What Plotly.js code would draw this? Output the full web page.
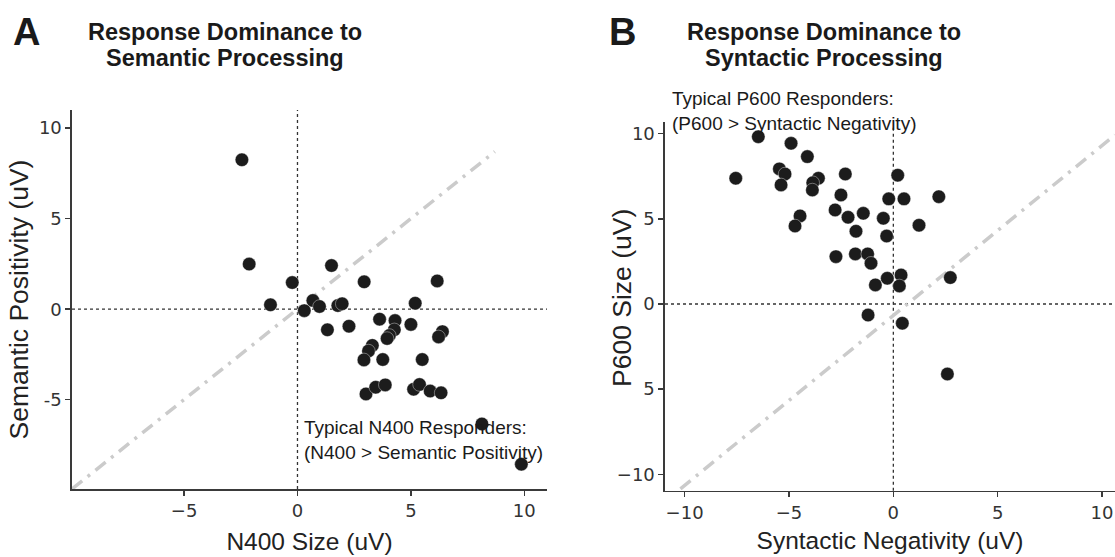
<!DOCTYPE html>
<html>
<head>
<meta charset="utf-8">
<script src="https://cdn.plot.ly/plotly-3.0.1.min.js"></script>
<style>
  html, body { margin: 0; padding: 0; background: #fff; }
  #chart { width: 1115px; height: 557px; }
</style>
</head>
<body>
<div id="chart"></div>
<script>
// Panel A: N400 Size (x) vs Semantic Positivity (y)
const n400Size = [-2.45, -2.13, -0.23, 1.50, 2.94, 6.16, -1.19, 0.68, 0.97, 0.30, 1.78, 1.97, 5.19,
  1.32, 2.27, 3.62, 4.30, 4.27, 4.05, 3.95, 5.00, 6.39, 6.22, 3.30, 3.13, 2.93, 3.76, 5.50,
  3.02, 3.45, 3.87, 5.12, 5.38, 5.85, 6.33, 8.13, 9.87];
const semanticPositivity = [8.25, 2.49, 1.47, 2.41, 1.51, 1.56, 0.24, 0.48, 0.15, -0.08, 0.20, 0.30, 0.33,
  -1.14, -0.94, -0.55, -0.63, -1.14, -1.45, -1.62, -0.84, -1.24, -1.53, -2.00, -2.31, -2.80, -2.78, -2.78,
  -4.68, -4.31, -4.18, -4.42, -4.16, -4.52, -4.62, -6.34, -8.56];

// Panel B: Syntactic Negativity (x) vs P600 Size (y)
const syntacticNegativity = [-7.55, -6.47, -4.90, -4.12, -5.46, -5.19, -5.38, -3.59, -3.86, -3.88, -2.30, -2.51,
  0.21, -0.22, 0.51, 2.18, -2.79, -2.17, -1.44, -0.48, -4.47, -4.71, -1.79, -0.32, 1.23,
  -2.75, -1.82, -1.23, -1.07, -0.29, 0.37, 0.29, -0.86, 2.73, -1.21, 0.43, 2.59];
const p600Size = [7.38, 9.82, 9.43, 8.65, 7.93, 7.63, 6.99, 7.38, 7.12, 6.69, 7.63, 6.40,
  7.56, 6.17, 6.17, 6.30, 5.52, 5.09, 5.32, 5.03, 5.17, 4.58, 4.27, 3.99, 4.62,
  2.78, 2.94, 2.94, 2.39, 1.51, 1.70, 1.06, 1.12, 1.55, -0.65, -1.13, -4.11];

// Tick labels as shown
const aXTickVals = [-5, 0, 5, 10];
const aXTickText = ['\u22125', '0', '5', '10'];
const aYTickVals = [-5, 0, 5, 10];
const aYTickText = ['-5', '0', '5', '10'];
const bXTickVals = [-10, -5, 0, 5, 10];
const bXTickText = ['\u221210', '\u22125', '0', '5', '10'];
const bYTickVals = [-10, -5, 0, 5, 10];
const bYTickText = ['\u221210', '5', '0', '5', '10'];

// Diagonal reference line endpoints (data units)
const aDiag = {x0: -9.94, y0: -9.93, x1: 8.7, y1: 8.7};
const bDiag = {x0: -10.2, y0: -10.85, x1: 10.62, y1: 9.92};

const W = 1115, H = 557;
const px = v => v / W;
const py = v => 1 - v / H;

const markerStyle = {size: 13.5, color: '#1c1c1c', line: {width: 0.7, color: 'rgba(255,255,255,0.55)'}};

const traces = [
  {x: n400Size, y: semanticPositivity, type: 'scatter', mode: 'markers', marker: markerStyle,
   xaxis: 'x', yaxis: 'y', hoverinfo: 'x+y', cliponaxis: false},
  {x: syntacticNegativity, y: p600Size, type: 'scatter', mode: 'markers', marker: markerStyle,
   xaxis: 'x2', yaxis: 'y2', hoverinfo: 'x+y', cliponaxis: false}
];

const SANS = 'Liberation Sans, Arial, sans-serif';
const tickFont = {family: 'DejaVu Sans, sans-serif', size: 18, color: '#333'};
const xTitleFont = {family: SANS, size: 24.5, color: '#222'};
const yTitleFont = {family: SANS, size: 26.5, color: '#222'};
const headFont = {family: SANS, size: 23.5, color: '#1a1a1a'};
const noteFont = {family: SANS, size: 19, color: '#1a1a1a'};
const axisCommon = {
  showgrid: false, zeroline: false, showline: true, linecolor: '#3a3a3a', linewidth: 1.6,
  ticks: 'outside', ticklen: 5, tickwidth: 1.4, tickcolor: '#3a3a3a', tickfont: tickFont,
  tickmode: 'array', fixedrange: true
};

const dotted = {color: '#333', width: 1.3, dash: '3px,3px'};
const dashdot = {color: '#cbcbcb', width: 3.5, dash: '13px,7px,3px,7px'};

function label(text, x, y, font, opts) {
  return Object.assign({text: text, xref: 'paper', yref: 'paper', x: px(x), y: py(y),
    xanchor: 'center', yanchor: 'middle', showarrow: false, font: font}, opts || {});
}

const layout = {
  width: W, height: H,
  margin: {l: 0, r: 0, t: 0, b: 0},
  paper_bgcolor: '#fff', plot_bgcolor: 'rgba(0,0,0,0)',
  showlegend: false,
  font: {family: SANS, color: '#222'},
  xaxis: Object.assign({}, axisCommon, {
    domain: [px(72), px(547)], range: [-9.94, 11.0], anchor: 'y',
    tickvals: aXTickVals, ticktext: aXTickText,
    title: {text: 'N400 Size (uV)', font: xTitleFont, standoff: 12}
  }),
  yaxis: Object.assign({}, axisCommon, {
    domain: [py(489), py(110)], range: [-9.93, 11.0], anchor: 'x',
    tickvals: aYTickVals, ticktext: aYTickText,
    title: {text: 'Semantic Positivity (uV)', font: yTitleFont, standoff: 2}
  }),
  xaxis2: Object.assign({}, axisCommon, {
    domain: [px(665), 1], range: [-10.94, 10.62], anchor: 'y2',
    tickvals: bXTickVals, ticktext: bXTickText,
    title: {text: 'Syntactic Negativity (uV)', font: xTitleFont, standoff: 10}
  }),
  yaxis2: Object.assign({}, axisCommon, {
    domain: [py(490.7), py(121.7)], range: [-10.96, 10.7], anchor: 'x2',
    tickvals: bYTickVals, ticktext: bYTickText
  }),
  shapes: [
    {type: 'line', xref: 'x', yref: 'y domain', x0: 0, x1: 0, y0: 0, y1: 1, line: dotted, layer: 'below'},
    {type: 'line', xref: 'x domain', yref: 'y', x0: 0, x1: 1, y0: 0, y1: 0, line: dotted, layer: 'below'},
    {type: 'line', xref: 'x', yref: 'y', x0: aDiag.x0, y0: aDiag.y0, x1: aDiag.x1, y1: aDiag.y1, line: dashdot, layer: 'below'},
    {type: 'line', xref: 'x2', yref: 'y2 domain', x0: 0, x1: 0, y0: 0, y1: 0.99, line: dotted, layer: 'below'},
    {type: 'line', xref: 'x2 domain', yref: 'y2', x0: 0, x1: 1, y0: 0, y1: 0, line: dotted, layer: 'below'},
    {type: 'line', xref: 'x2', yref: 'y2', x0: bDiag.x0, y0: bDiag.y0, x1: bDiag.x1, y1: bDiag.y1, line: dashdot, layer: 'below'}
  ],
  annotations: [
    label('<b>A</b>', 11, 32, {family: SANS, size: 38, color: '#1a1a1a'}, {xanchor: 'left'}),
    label('<b>B</b>', 607, 32, {family: SANS, size: 38, color: '#1a1a1a'}, {xanchor: 'left'}),
    label('<b>Response Dominance to</b>', 225, 32, headFont),
    label('<b>Semantic Processing</b>', 225, 58, headFont),
    label('<b>Response Dominance to</b>', 824, 32, headFont),
    label('<b>Syntactic Processing</b>', 824, 58, headFont),
    label('Typical N400 Responders:<br>(N400 > Semantic Positivity)', 302, 440, noteFont, {xanchor: 'left', align: 'left'}),
    label('Typical P600 Responders:<br>(P600 > Syntactic Negativity)', 670, 111, noteFont, {xanchor: 'left', align: 'left'}),
    label('P600 Size (uV)', 622, 298, yTitleFont, {textangle: -90})
  ]
};

Plotly.newPlot('chart', traces, layout, {displayModeBar: false, staticPlot: true});
</script>
</body>
</html>
